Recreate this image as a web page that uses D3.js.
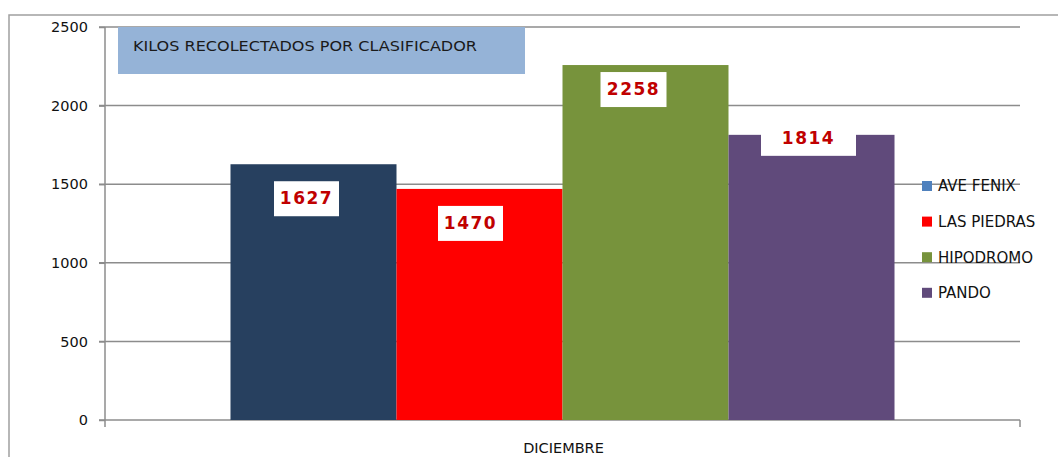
<!DOCTYPE html>
<html>
<head>
<meta charset="utf-8">
<script src="https://cdnjs.cloudflare.com/ajax/libs/d3/7.8.5/d3.min.js"></script>
<style>
  body { margin: 0; background: white; overflow: hidden; }
  text { font-family: "DejaVu Sans", Verdana, sans-serif; }
</style>
</head>
<body>
<script>
//Data
var category = "DICIEMBRE";
var series = ["AVE FENIX", "LAS PIEDRAS", "HIPODROMO", "PANDO"];
var values = [1627, 1470, 2258, 1814];
var yTicks = [0, 500, 1000, 1500, 2000, 2500];
var title = "KILOS RECOLECTADOS POR CLASIFICADOR";

//Colours
var barColors = ["#27405F", "#FF0000", "#77933C", "#604A7B"];
var legendColors = ["#4F81BD", "#FF0000", "#77933C", "#604A7B"];
var gridColor = "#8C8C8C";
var labelColor = "#C00000";

//SVG
var w = 1058;
var h = 457;
var plot = {left: 105, right: 1020, top: 27, bottom: 420};

var svg = d3.select("body").append("svg")
    .attr("width", w)
    .attr("height", h);

//Outer chart border
svg.append("rect")
    .attr("x", 9)
    .attr("y", 15)
    .attr("width", w + 20)
    .attr("height", h + 20)
    .attr("fill", "white")
    .attr("stroke", "#A0A0A0")
    .attr("stroke-width", 1.5);

//Scales
var y = d3.scaleLinear()
    .domain([0, 2500])
    .range([plot.bottom, plot.top]);

var x0 = d3.scaleBand()
    .domain([category])
    .range([plot.left, plot.right])
    .paddingInner(0)
    .paddingOuter(0.189);

var x1 = d3.scaleBand()
    .domain(series)
    .range([0, x0.bandwidth()]);

//Gridlines
svg.append("g")
    .selectAll("line")
    .data(yTicks)
    .join("line")
    .attr("x1", plot.left - 6)
    .attr("x2", plot.right)
    .attr("y1", d => y(d))
    .attr("y2", d => y(d))
    .attr("stroke", gridColor)
    .attr("stroke-width", 1.5);

//Y axis
var yAxis = svg.append("g")
    .attr("transform", "translate(" + plot.left + ",0)")
    .call(d3.axisLeft(y).tickValues(yTicks).tickFormat(d3.format("d")).tickSize(6).tickPadding(11));
yAxis.select(".domain").attr("stroke", gridColor).attr("stroke-width", 1.5)
    .attr("d", "M0," + plot.top + "V" + (plot.bottom + 7));
yAxis.selectAll(".tick line").attr("stroke", gridColor).attr("stroke-width", 1.5);
yAxis.selectAll(".tick text")
    .style("font-family", "DejaVu Sans")
    .style("font-size", "14.5px")
    .attr("fill", "#111");

//Category axis end tick
svg.append("line")
    .attr("x1", plot.right).attr("x2", plot.right)
    .attr("y1", plot.bottom).attr("y2", plot.bottom + 7)
    .attr("stroke", gridColor).attr("stroke-width", 1.5);

//Bars
var bars = svg.append("g")
    .attr("transform", "translate(" + x0(category) + ",0)");

bars.selectAll("rect")
    .data(values)
    .join("rect")
    .attr("x", (d, i) => x1(series[i]))
    .attr("y", d => y(d))
    .attr("width", x1.bandwidth())
    .attr("height", d => plot.bottom - y(d))
    .attr("fill", (d, i) => barColors[i]);

//Data labels
var labelShift = [[-7, 34], [-9, 34], [-12, 24], [-3, 3]];
var labelWidth = [65, 65, 66, 95];
var labels = bars.selectAll("g.lab")
    .data(values)
    .join("g")
    .attr("class", "lab")
    .attr("transform", (d, i) => "translate(" +
        (x1(series[i]) + x1.bandwidth() / 2 + labelShift[i][0]) + "," +
        (y(d) + labelShift[i][1]) + ")");

labels.append("rect")
    .attr("x", (d, i) => -labelWidth[i] / 2)
    .attr("y", -17)
    .attr("width", (d, i) => labelWidth[i])
    .attr("height", 35)
    .attr("fill", "white");

labels.append("text")
    .attr("text-anchor", "middle")
    .attr("dy", "0.36em")
    .attr("fill", labelColor)
    .style("font-weight", "bold")
    .style("font-size", "17px")
    .style("letter-spacing", "1.5px")
    .text(d => d);

//Title box
svg.append("rect")
    .attr("x", 118)
    .attr("y", 27)
    .attr("width", 407)
    .attr("height", 47)
    .attr("fill", "#95B3D7");

svg.append("text")
    .attr("x", 133)
    .attr("y", 51)
    .attr("fill", "#1a1a1a")
    .attr("textLength", 344)
    .attr("lengthAdjust", "spacingAndGlyphs")
    .style("font-size", "13.5px")
    .text(title);

//Category label
svg.append("text")
    .attr("x", x0(category) + x0.bandwidth() / 2 + 1)
    .attr("y", 453)
    .attr("text-anchor", "middle")
    .attr("fill", "#111")
    .style("font-size", "14.5px")
    .text(category);

//Legend
var legend = svg.append("g")
    .selectAll("g")
    .data(series)
    .join("g")
    .attr("transform", (d, i) => "translate(922," + (186 + i * 35.6) + ")");

legend.append("rect")
    .attr("x", 0)
    .attr("y", -5)
    .attr("width", 10)
    .attr("height", 10)
    .attr("fill", (d, i) => legendColors[i]);

legend.append("text")
    .attr("x", 16)
    .attr("dy", "0.36em")
    .attr("fill", "#111")
    .style("font-size", "15px")
    .text(d => d);
</script>
</body>
</html>
